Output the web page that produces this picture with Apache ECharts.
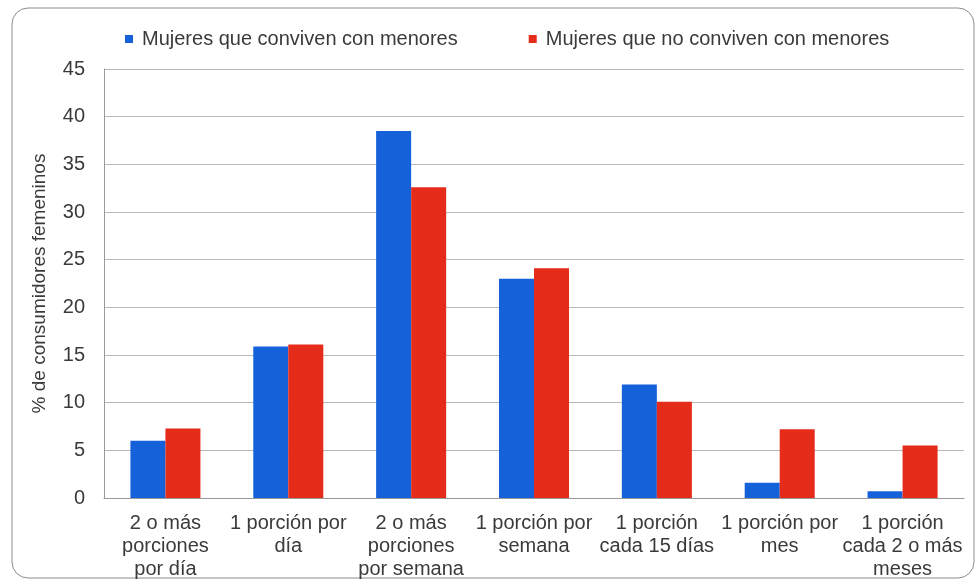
<!DOCTYPE html>
<html>
<head>
<meta charset="utf-8">
<script src="https://cdn.jsdelivr.net/npm/echarts@6/dist/echarts.min.js"></script>
<style>
  html, body { margin: 0; padding: 0; background: #fff; }
  #chart { width: 978px; height: 581px; }
</style>
</head>
<body>
<div id="chart"></div>
<script>
// categories and series values
var categorias = [
    '2 o más\nporciones\npor día',
    '1 porción por\ndía',
    '2 o más\nporciones\npor semana',
    '1 porción por\nsemana',
    '1 porción\ncada 15 días',
    '1 porción por\nmes',
    '1 porción\ncada 2 o más\nmeses'
];
var conMenores = [6.0, 15.9, 38.5, 23.0, 11.9, 1.6, 0.7];
var sinMenores = [7.3, 16.1, 32.6, 24.1, 10.1, 7.2, 5.5];
var nombres = ['Mujeres que conviven con menores', 'Mujeres que no conviven con menores'];

var myChart = echarts.init(document.getElementById('chart'));

var fontFam = 'Liberation Sans, Arial, sans-serif';

var option = {
    backgroundColor: '#fff',
    animation: false,
    graphic: [{
        type: 'rect',
        shape: { x: 12, y: 8, width: 962, height: 570, r: 16 },
        style: { fill: 'none', stroke: '#8c8c8c', lineWidth: 1 },
        silent: true
    }],
    legend: {
        top: 24,
        left: 120,
        itemWidth: 8,
        itemHeight: 8,
        itemGap: 71,
        icon: 'rect',
        textStyle: { fontFamily: fontFam, fontSize: 20, color: '#3a3a3a', padding: [0, 0, 0, 4] },
        data: nombres
    },
    grid: {
        left: 104,
        right: 14,
        top: 69,
        bottom: 82,
        containLabel: false
    },
    xAxis: {
        type: 'category',
        data: categorias,
        axisLine: { lineStyle: { color: '#999' } },
        axisTick: { show: false },
        axisLabel: {
            interval: 0,
            margin: 14,
            fontFamily: fontFam,
            fontSize: 20,
            lineHeight: 23,
            color: '#3a3a3a'
        }
    },
    yAxis: {
        type: 'value',
        min: 0,
        max: 45,
        interval: 5,
        name: '% de consumidores femeninos',
        nameLocation: 'middle',
        nameGap: 55,
        nameTextStyle: { fontFamily: fontFam, fontSize: 19, color: '#3a3a3a' },
        axisLine: { show: true, lineStyle: { color: '#999' } },
        axisTick: { show: false },
        axisLabel: { fontFamily: fontFam, fontSize: 20, color: '#3a3a3a', margin: 19 },
        splitLine: { lineStyle: { color: '#b8b8b8' } }
    },
    series: [
        {
            name: nombres[0],
            type: 'bar',
            data: conMenores,
            barGap: '0%',
            barCategoryGap: '43%',
            itemStyle: { color: '#1561da' }
        },
        {
            name: nombres[1],
            type: 'bar',
            data: sinMenores,
            itemStyle: { color: '#e52b19' }
        }
    ]
};

myChart.setOption(option);
</script>
</body>
</html>
